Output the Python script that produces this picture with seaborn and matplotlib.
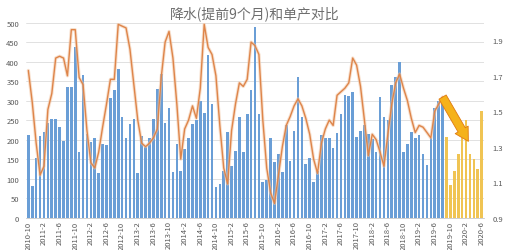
import numpy as np
import pandas as pd
import matplotlib
matplotlib.use("Agg")
import matplotlib.pyplot as plt
import seaborn as sns

sns.set_theme(style="white")
plt.rcParams['font.family'] = ['Noto Sans CJK SC', 'DejaVu Sans']

# ---- data ----
months = [f"{p.year}-{p.month}" for p in pd.period_range("2010-10", "2020-06", freq="M")]

rain_actual = [
    212, 82, 152, 210, 220, 242, 253, 253, 232, 196,
    336, 335, 437, 168, 365, 215, 195, 203, 115, 190,
    185, 307, 327, 380, 258, 205, 240, 252, 115, 210,
    182, 205, 252, 330, 367, 242, 282, 117, 190, 120,
    175, 205, 240, 250, 298, 268, 418, 292, 78, 85,
    120, 219, 133, 172, 257, 168, 266, 326, 488, 266,
    91, 97, 203, 142, 163, 116, 238, 146, 221, 360,
    257, 138, 152, 91, 120, 212, 205, 203, 179, 217,
    266, 315, 311, 323, 206, 223, 238, 215, 202, 169,
    308, 257, 249, 339, 360, 400, 169, 189, 219, 205,
    212, 162, 136, 203, 281, 298, 308,
]
rain_forecast = [207, 83, 119, 164, 203, 250, 164, 150, 124, 274]

yield_ratio = [
    1.73, 1.55, 1.32, 1.14, 1.19, 1.51, 1.60, 1.80, 1.81, 1.80,
    1.70, 1.96, 1.96, 1.69, 1.65, 1.39, 1.21, 1.18, 1.27, 1.41,
    1.54, 1.68, 1.68, 1.99, 1.98, 1.97, 1.85, 1.65, 1.45, 1.32,
    1.30, 1.32, 1.35, 1.40, 1.69, 1.89, 1.95, 1.80, 1.54, 1.23,
    1.40, 1.45, 1.53, 1.46, 1.63, 1.99, 1.86, 1.82, 1.70, 1.42,
    1.18, 1.09, 1.39, 1.54, 1.66, 1.64, 1.68, 1.89, 1.87, 1.82,
    1.45, 1.18, 1.04, 0.98, 1.14, 1.30, 1.42, 1.47, 1.53, 1.57,
    1.53, 1.46, 1.37, 1.23, 1.15, 1.32, 1.40, 1.45, 1.42, 1.59,
    1.61, 1.63, 1.66, 1.80, 1.76, 1.64, 1.45, 1.25, 1.37, 1.34,
    1.27, 1.19, 1.37, 1.54, 1.66, 1.71, 1.63, 1.56, 1.46, 1.38,
    1.42, 1.41, 1.38, 1.35, 1.50, 1.54, 1.58,
]
arrow_head = (112.6, 1.33)   # forecast arrow tip (annotation)

left_ticks = list(range(0, 501, 50))
right_ticks = [0.9, 1.1, 1.3, 1.5, 1.7, 1.9]
title = "降水(提前9个月)和单产对比"

BLUE = "#6A9ED6"
YELLOW = "#F0C453"
ORANGE = "#DE854A"
GRAY = "#595959"

df = pd.DataFrame({
    "month": months,
    "rain": rain_actual + rain_forecast,
    "kind": ["actual"] * len(rain_actual) + ["forecast"] * len(rain_forecast),
})

fig = plt.figure(figsize=(5.10, 2.51), dpi=100)
ax = fig.add_axes([0.051, 0.129, 0.898, 0.777])

sns.barplot(data=df, x="month", y="rain", hue="kind",
            palette={"actual": BLUE, "forecast": YELLOW},
            dodge=False, width=0.68, saturation=1, legend=False, ax=ax,
            linewidth=0, edgecolor="none")

ax.set_xlim(-0.6, len(months) - 0.4)
ax.set_ylim(0, 500)
ax.set_yticks(left_ticks)
ax.set_xticks(range(0, len(months), 4))
ax.set_xticklabels(months[::4])
ax.set_xlabel("")
ax.set_ylabel("")
ax.set_axisbelow(True)
ax.yaxis.grid(True, color="#DCDCDC", linewidth=0.6)
ax.xaxis.grid(False)
for s in ["top", "right", "left"]:
    ax.spines[s].set_visible(False)
ax.spines["bottom"].set_color("#C8C8C8")
ax.spines["bottom"].set_linewidth(0.6)
ax.tick_params(axis="x", rotation=90, labelsize=5.5, colors=GRAY, length=0, pad=2)
ax.tick_params(axis="y", labelsize=5.5, colors=GRAY, length=0, pad=5)

ax2 = ax.twinx()
xs = np.arange(len(yield_ratio))
sns.lineplot(x=xs, y=yield_ratio, ax=ax2, color="#F2C6A4", linewidth=2.4, alpha=0.55)
sns.lineplot(x=xs, y=yield_ratio, ax=ax2, color=ORANGE, linewidth=1.0)
ax2.set_ylim(0.9, 2.0)
ax2.set_yticks(right_ticks)
ax2.set_yticklabels([f"{t:.1f}" for t in right_ticks])
ax2.set_ylabel("")
ax2.grid(False)
for s in ["top", "right", "left", "bottom"]:
    ax2.spines[s].set_visible(False)
ax2.tick_params(axis="y", labelsize=5.5, colors=GRAY, length=0, pad=6)

ax2.annotate("", xy=arrow_head, xytext=(xs[-1], yield_ratio[-1]),
             arrowprops=dict(arrowstyle="simple,head_width=0.9,head_length=0.8,tail_width=0.5",
                             fc="#F5B21A", ec="#E07A10", lw=0.6, shrinkA=0, shrinkB=0))

fig.text(0.5, 0.975, title, ha="center", va="top", fontsize=10, color="#6E6E6E")

fig.savefig("out.png", dpi=100)
